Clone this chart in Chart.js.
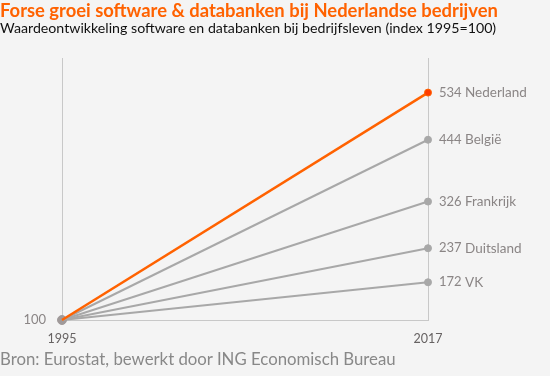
<!DOCTYPE html>
<html>
<head>
<meta charset="utf-8">
<script src="https://cdn.jsdelivr.net/npm/chart.js@4"></script>
<style>
  html, body { margin: 0; padding: 0; background: #f4f4f4; }
  body { width: 550px; height: 376px; position: relative; overflow: hidden; font-family: Lato, "Open Sans", sans-serif; }
  #title { position: absolute; left: 0; top: -1px; font-size: 18.4px; font-weight: bold; color: #ff6200; white-space: nowrap; }
  #subtitle { position: absolute; left: 0; top: 19px; font-size: 14.2px; color: #111; white-space: nowrap; }
  #source { position: absolute; left: 0; top: 349px; font-size: 16.8px; line-height: 20px; color: #888; white-space: nowrap; }
  #wrap { position: absolute; left: 0; top: 0; width: 550px; height: 376px; }
</style>
</head>
<body>
<div id="wrap"><canvas id="chart"></canvas></div>
<div id="title">Forse groei software &amp; databanken bij Nederlandse bedrijven</div>
<div id="subtitle">Waardeontwikkeling software en databanken bij bedrijfsleven (index 1995=100)</div>
<div id="source">Bron: Eurostat, bewerkt door ING Economisch Bureau</div>
<script>
// Data
const years = ["1995", "2017"];
const countries = ["Nederland", "België", "Frankrijk", "Duitsland", "VK"];
const startValues = [100, 100, 100, 100, 100];
const endValues = [534, 444, 326, 237, 172];
const lineColors = ["#ff6200", "#a8a8a8", "#a8a8a8", "#a8a8a8", "#a8a8a8"];

const labelColor = "#8a8585";

// Labels at the end of each line + the "100" on the left
const endLabels = {
  id: "endLabels",
  afterDatasetsDraw(chart) {
    const ctx = chart.ctx;
    ctx.save();
    ctx.fillStyle = labelColor;
    ctx.textBaseline = "middle";
    chart.data.datasets.forEach((ds, i) => {
      const pt = chart.getDatasetMeta(i).data[1];
      ctx.textAlign = "left";
      ctx.font = "13px Lato, sans-serif";
      ctx.fillText(String(endValues[i]), pt.x + 11, pt.y);
      ctx.font = "13.5px Lato, sans-serif";
      ctx.fillText(countries[i], pt.x + 37, pt.y);
    });
    const y = chart.scales.y.getPixelForValue(startValues[0]);
    ctx.font = "13px Lato, sans-serif";
    ctx.textAlign = "right";
    ctx.fillText(String(startValues[0]), chart.chartArea.left - 16, y);
    ctx.restore();
  },
};

const datasets = countries.map((name, i) => ({
  label: name,
  data: [startValues[i], endValues[i]],
  borderColor: lineColors[i],
  borderWidth: i === 0 ? 2.5 : 2,
  pointRadius: [i === 4 ? 4.5 : 0, 3.5],
  pointBackgroundColor: ["#a09a9a", i === 0 ? "#ff3c00" : "#a8a8a8"],
  pointBorderColor: ["#a09a9a", lineColors[i]],
  pointBorderWidth: 1,
  tension: 0,
  clip: false,
  order: i === 0 ? 0 : 1,
}));

new Chart(document.getElementById("chart"), {
  type: "line",
  data: { labels: years, datasets },
  options: {
    responsive: true,
    maintainAspectRatio: false,
    animation: false,
    layout: { padding: { left: 62, right: 122, top: 58, bottom: 26 } },
    plugins: {
      legend: { display: false },
      tooltip: { enabled: false },
    },
    scales: {
      x: {
        offset: false,
        grid: { color: "#c8c8c8", lineWidth: 1, drawTicks: false },
        border: { color: "#c8c8c8" },
        ticks: { color: "#666262", font: { family: "Lato", size: 12.5 }, padding: 11, maxRotation: 0 },
        afterFit: (s) => { s.height = 30; },
      },
      y: {
        display: false,
        min: 100,
        max: 600,
      },
    },
  },
  plugins: [endLabels],
});
</script>
</body>
</html>
